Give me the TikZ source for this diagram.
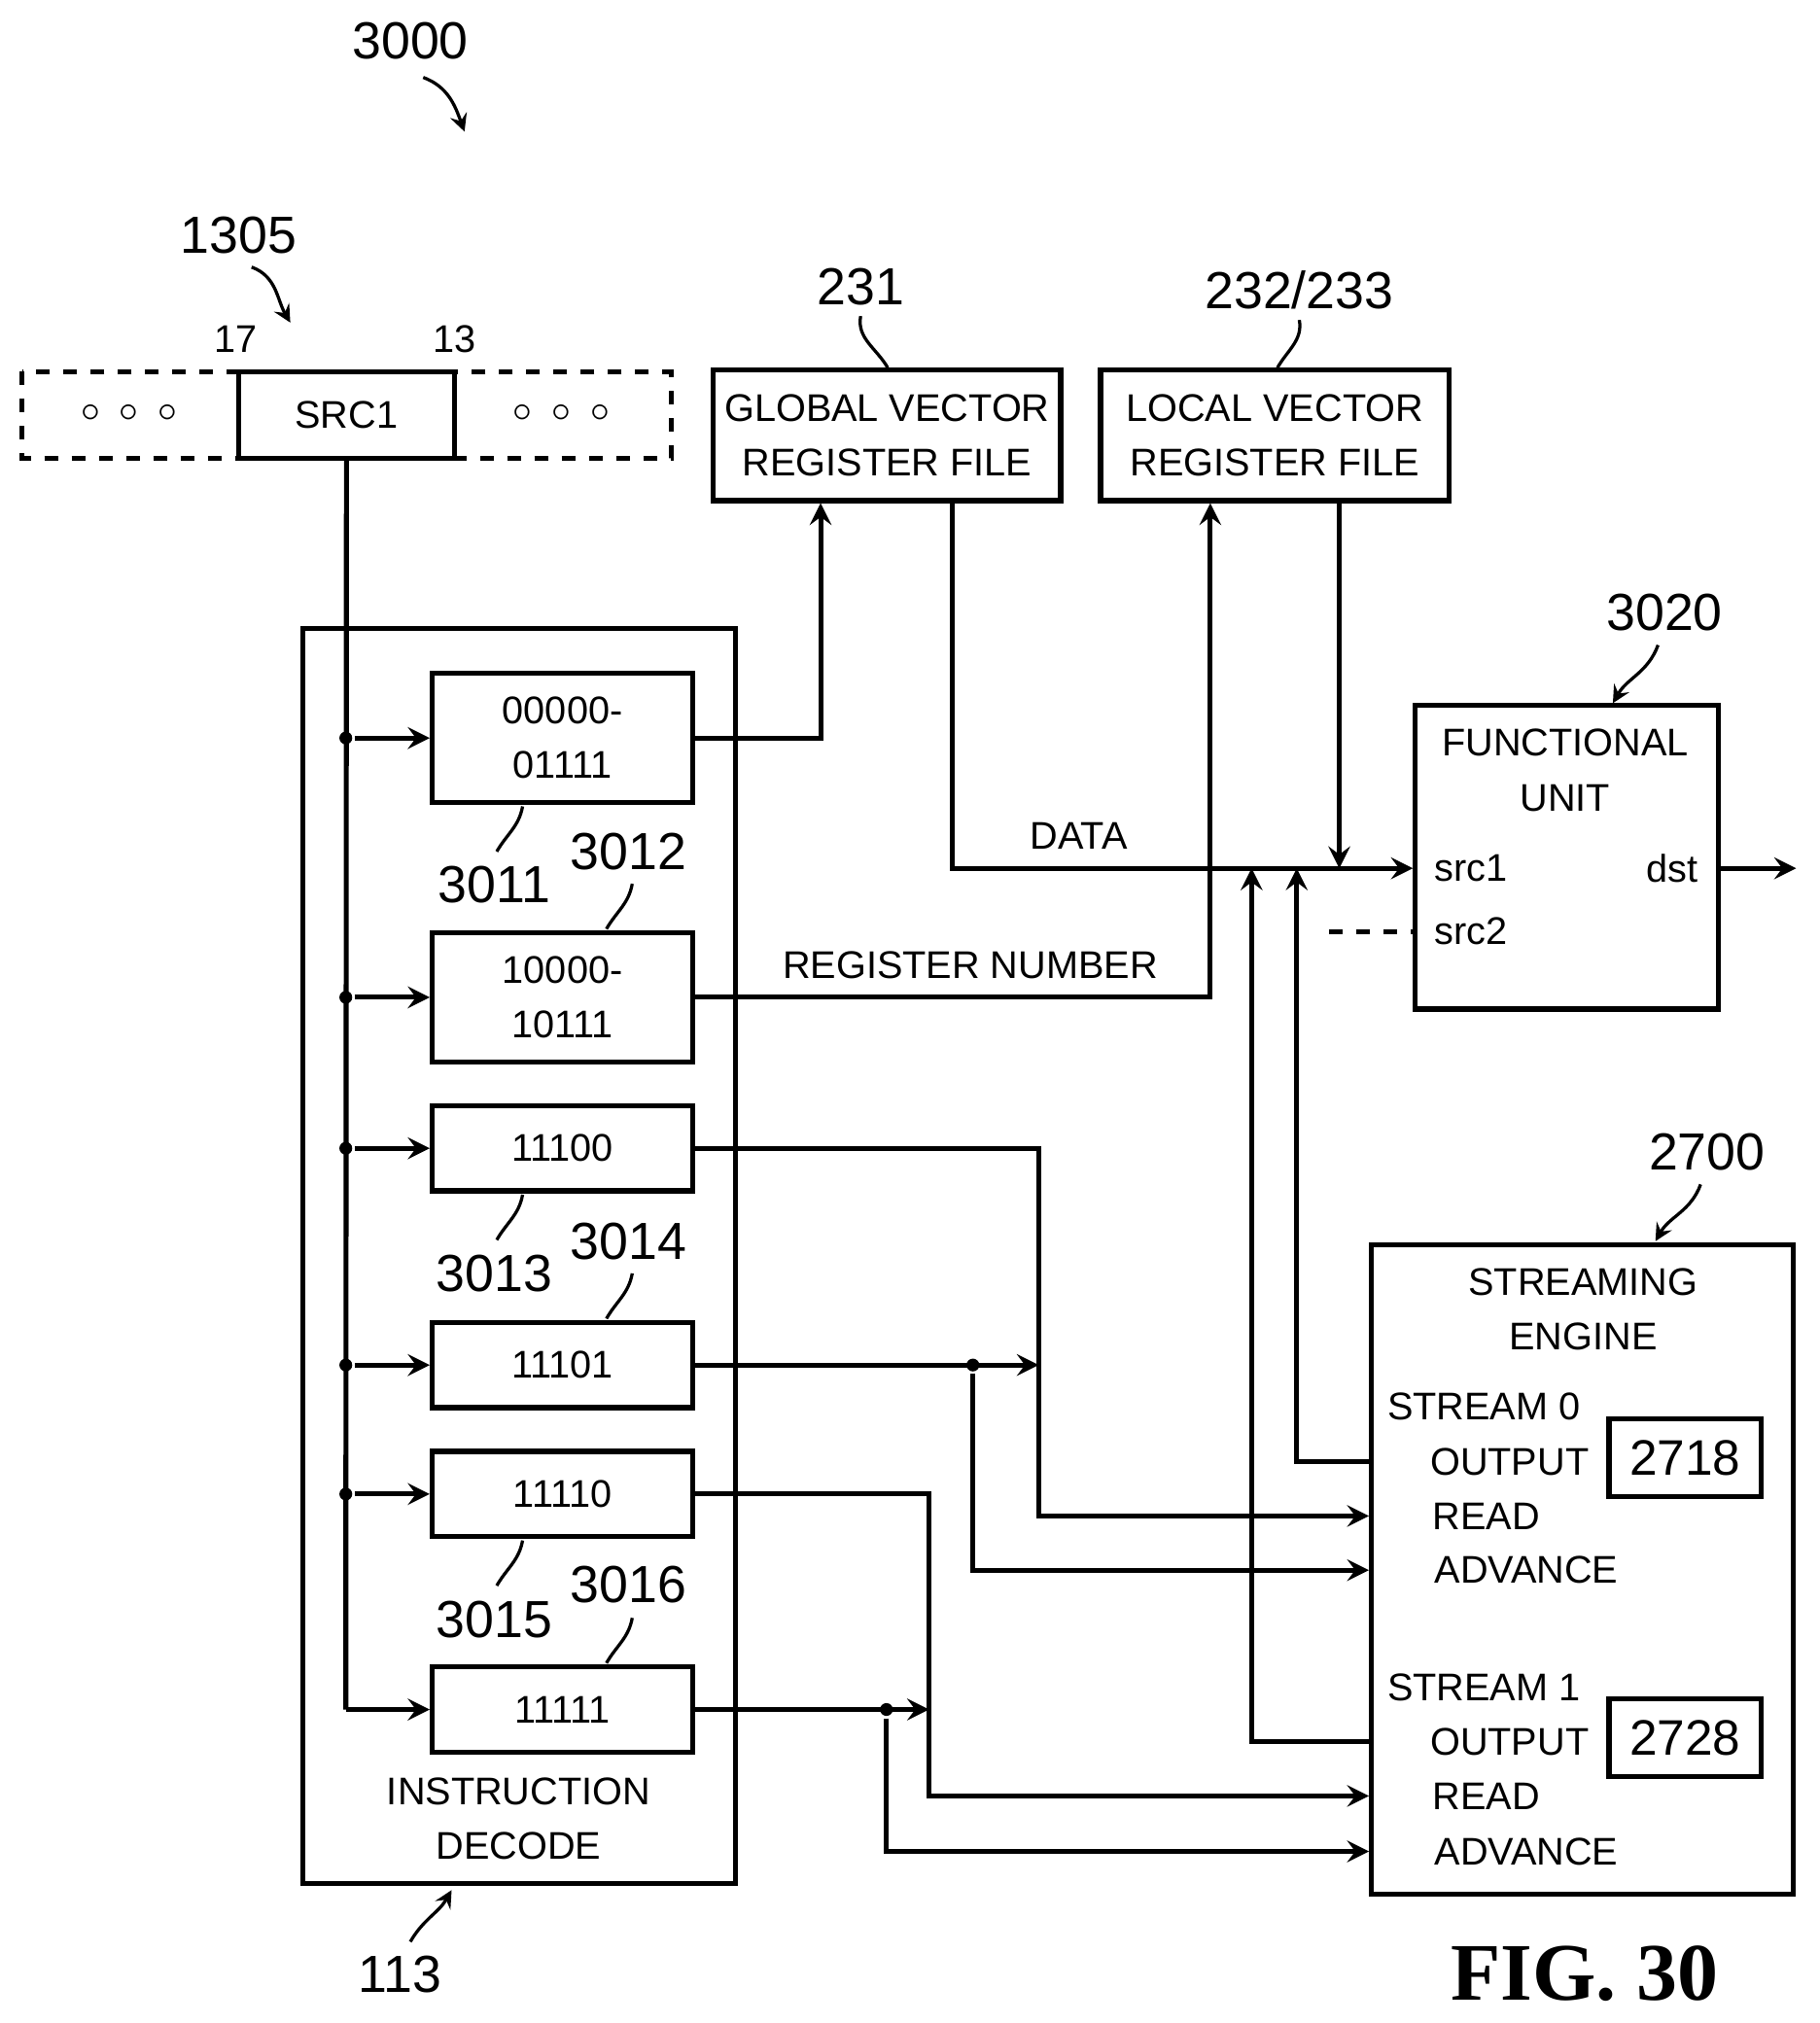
\documentclass[tikz,border=0pt]{standalone}
\usepackage{fontspec}
\setmainfont{Liberation Sans}
\newfontfamily\figfont{Liberation Serif}
\usetikzlibrary{arrows,positioning}
\begin{document}
\begin{tikzpicture}[x=0.01cm,y=-0.01cm,line width=1.1pt,
  box/.style={draw,inner sep=0pt,align=center,font=\fontsize{8.5}{12}\selectfont},
  lbl/.style={font=\fontsize{11.5}{13}\selectfont},
  txt/.style={font=\fontsize{8.5}{11}\selectfont},
  arr/.style={-stealth},
  lead/.style={line width=0.7pt},
  dot/.style={circle,fill,inner sep=1pt}]
\useasboundingbox (0,0) rectangle (1410,1568);

% instruction field
\draw[dashed] (17,288) rectangle (520,355);
\node (src1) [box,minimum width=1.67cm,minimum height=0.67cm] at (268.5,321.5) {SRC1};
\node (dl) [txt] at (100,320) {$\circ\ \circ\ \circ$};
\node (dr) [txt] at (435,320) {$\circ\ \circ\ \circ$};
\node (b17) [txt] at (183,263) {17};
\node (b13) [txt] at (352,263) {13};
\node (l1305) [lbl] at (185,182) {1305};
\draw[lead,arr] (195,207) to[out=-20,in=120] (225,250);
\node (l3000) [lbl] at (318,32) {3000};
\draw[lead,arr] (328,60) to[out=-20,in=110] (360,102);

% register files
\node (gvrf) [box,minimum width=2.69cm,minimum height=1.01cm] at (687.5,337.5) {GLOBAL VECTOR\\REGISTER FILE};
\node (lvrf) [box,minimum width=2.70cm,minimum height=1.01cm] at (988,337.5) {LOCAL VECTOR\\REGISTER FILE};
\node (l231) [lbl] at (667,222) {231};
\draw[lead] (667,245) to[out=-100,in=120] (688,285);
\node (l232) [lbl] at (1007,225) {232/233};
\draw[lead] (1007,248) to[out=-80,in=60] (990,285);

% instruction decode
\draw (235,487) rectangle (570,1460);
\node (idec) [box,draw=none] at (402,1410) {INSTRUCTION\\DECODE};
\node (l113) [lbl] at (310,1530) {113};
\draw[lead,arr] (318,1505) to[out=60,in=-120] (350,1465);
\node (d1) [box,minimum width=2.02cm,minimum height=1.00cm] at (436,572) {00000-\\01111};
\node (d2) [box,minimum width=2.02cm,minimum height=1.00cm] at (436,773) {10000-\\10111};
\node (d3) [box,minimum width=2.02cm,minimum height=0.66cm] at (436,890) {11100};
\node (d4) [box,minimum width=2.02cm,minimum height=0.66cm] at (436,1058) {11101};
\node (d5) [box,minimum width=2.02cm,minimum height=0.66cm] at (436,1158) {11110};
\node (d6) [box,minimum width=2.02cm,minimum height=0.66cm] at (436,1325) {11111};
\node (l3011) [lbl] at (383,686) {3011};
\node (l3012) [lbl] at (487,660) {3012};
\node (l3013) [lbl] at (383,987) {3013};
\node (l3014) [lbl] at (487,962) {3014};
\node (l3015) [lbl] at (383,1255) {3015};
\node (l3016) [lbl] at (487,1228) {3016};
\foreach \n/\y in {3011/622,3013/923,3015/1191}
  \draw[lead] (405,\y+3) to[out=-100,in=60] (385,\y+38);
\foreach \n/\y in {3012/723,3014/1025,3016/1292}
  \draw[lead] (490,\y-38) to[out=-100,in=60] (470,\y-3);

\coordinate (bot) at (268,1325);
\draw (src1.south) -- (bot);
\foreach \i/\y in {1/572,2/773,3/890,4/1058,5/1158} {
  \node (t\i) [dot] at (268,\y) {};
  \draw[arr] (t\i) -- (d\i.west);
}
\draw[arr] (bot) -- (d6.west);

% functional unit
\node (fu) [box,minimum width=2.35cm,minimum height=2.35cm] at (1214.5,664.5) {};
\node (fut) [box,draw=none] at (1213,597) {FUNCTIONAL\\UNIT};
\node (fs1) [txt] at (1140,673) {src1};
\node (fs2) [txt] at (1140,722) {src2};
\node (fdst) [txt] at (1296,673) {dst};
\coordinate (out) at (1392,673);
\draw[arr] (fu.east |- out) -- (out);
\coordinate (s2in) at (1030,722);
\draw[dashed] (s2in) -- (fu.west |- s2in);
\node (l3020) [lbl] at (1290,475) {3020};
\draw[lead,arr] (1285,500) to[out=-110,in=60] (1250,545);

% streaming engine
\node (se) [box,minimum width=3.27cm,minimum height=5.03cm] at (1226.5,1216.5) {};
\node (set) [box,draw=none] at (1227,1015) {STREAMING\\ENGINE};
\node (l2700) [lbl] at (1323,893) {2700};
\draw[lead,arr] (1318,918) to[out=-110,in=60] (1283,962);
\node (st0) [txt] at (1150,1090) {STREAM 0};
\node (o0) [txt] at (1170,1133) {OUTPUT};
\node (r0) [txt] at (1152,1175) {READ};
\node (a0) [txt] at (1183,1217) {ADVANCE};
\node (r2718) [box,minimum width=1.18cm,minimum height=0.6cm,font=\fontsize{11}{13}\selectfont] at (1306,1130) {2718};
\node (st1) [txt] at (1150,1308) {STREAM 1};
\node (o1) [txt] at (1170,1350) {OUTPUT};
\node (r1) [txt] at (1152,1392) {READ};
\node (a1) [txt] at (1183,1435) {ADVANCE};
\node (r2728) [box,minimum width=1.18cm,minimum height=0.6cm,font=\fontsize{11}{13}\selectfont] at (1306,1347) {2728};

% connections
\draw[arr] (d1.east) -| (gvrf.south -| 636,0);
\draw[arr] (d2.east) -| (lvrf.south -| 938,0);
\node (regnum) [txt] at (752,748) {REGISTER NUMBER};
\draw[arr] (gvrf.south -| 738,0) |- (fu.west |- fs1);
\node (data) [txt] at (836,648) {DATA};
\draw[arr] (lvrf.south -| 1038,0) -- (1038,673);
\draw[arr] (se.west |- o0) -| (1005,673);
\draw[arr] (se.west |- o1) -| (970,673);
\draw[arr] (d3.east) -| (805,1175) -- (se.west |- r0);
\coordinate (j4) at (805,1058);
\draw[arr] (d4.east) -- (j4);
\node (p4) [dot] at (754,1058) {};
\draw[arr] (p4) |- (se.west |- a0);
\draw[arr] (d5.east) -| (720,1392) -- (se.west |- r1);
\coordinate (j6) at (720,1325);
\draw[arr] (d6.east) -- (j6);
\node (p6) [dot] at (687,1325) {};
\draw[arr] (p6) |- (se.west |- a1);

\node (fig) [font=\fontsize{18}{20}\selectfont\bfseries\figfont] at (1228,1530) {FIG. 30};
\end{tikzpicture}
\end{document}
